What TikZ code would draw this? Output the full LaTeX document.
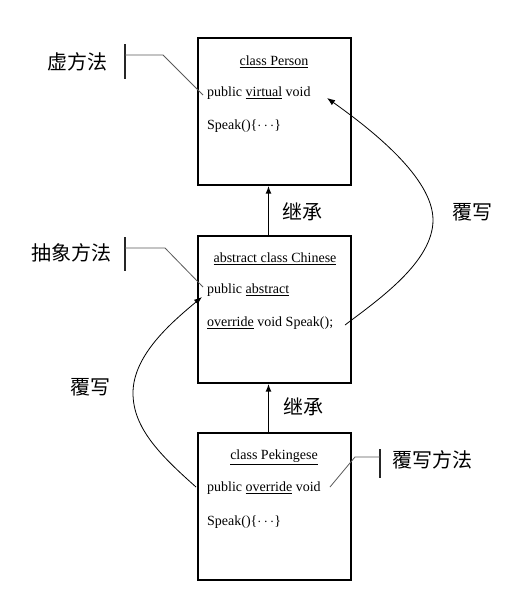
\documentclass[tikz,border=0pt]{standalone}
\usepackage{fontspec}
\setmainfont{Liberation Serif}
\newfontfamily\cjk{Noto Sans CJK SC}
\usetikzlibrary{arrows.meta}
\tikzset{
  classbox/.style={draw,line width=1.3pt,minimum width=153pt,minimum height=147pt,inner sep=0pt},
  code/.style={font=\fontsize{14}{16}\selectfont,inner sep=0pt},
  tag/.style={font=\cjk\fontsize{20}{22}\selectfont,inner sep=0pt},
  inherit/.style={line width=1.5pt,-{Latex[length=8pt,width=6pt]}},
  override/.style={line width=0.8pt,-{Latex[length=8pt,width=6pt]}},
  leader/.style={line width=0.8pt,gray!70!black},
  bar/.style={line width=1.6pt,gray!30!black}
}
\begin{document}
\begin{tikzpicture}[x=1pt,y=-1pt]
\useasboundingbox(0,0)rectangle(515,592);
\node[classbox](person)at(274.5,111.5){};
\node[classbox](chinese)at(274.5,309.5){};
\node[classbox](pekingese)at(274.5,506.5){};
% class Person
\node[code](personname)at(274,62){\underline{class Person}};
\node[code,anchor=west](personsig)at(207,93){public \underline{virtual} void};
\node[code,anchor=west](personbody)at(207,126){Speak()\{$\cdots$\}};
% abstract class Chinese
\node[code](chinesename)at(275,259){\underline{abstract class Chinese}};
\node[code,anchor=west](chinesesig)at(207,290){public \underline{abstract}};
\node[code,anchor=west](chinesebody)at(207,323){\underline{override} void Speak();};
% class Pekingese
\node[code](pekingesename)at(274,457){\underline{class Pekingese}};
\node[code,anchor=west](pekingesesig)at(207,488){public \underline{override} void};
\node[code,anchor=west](pekingesebody)at(207,522){Speak()\{$\cdots$\}};
% inheritance
\draw[inherit]([xshift=-6pt]chinese.north)--([xshift=-6pt]person.south);
\draw[inherit]([xshift=-6pt]pekingese.north)--([xshift=-6pt]chinese.south);
\node[tag](inheritA)at(302,212){继承};
\node[tag](inheritB)at(303,407){继承};
% overriding
\coordinate(speakdecl)at(345,325);
\coordinate(virtualtip)at(327,98);
\coordinate(rightbend)at(433,220);
\draw[override](speakdecl)..controls(378,300)and(433,262)..(rightbend)..controls(433,178)and(372,130)..(virtualtip);
\node[tag](overrideA)at(472,212){覆写};
\coordinate(pekingesedecl)at(196,487);
\coordinate(abstracttip)at(202,297);
\coordinate(leftbend)at(133,393);
\draw[override](pekingesedecl)..controls(160,455)and(133,428)..(leftbend)..controls(133,355)and(172,322)..(abstracttip);
\node[tag](overrideB)at(90,387){覆写};
% callouts
\node[tag,anchor=east](virtualtag)at(108,62){虚方法};
\draw[bar](125,44)--(125,79);
\coordinate(virtualknee)at(163,55);
\coordinate(virtualend)at(203,95);
\draw[leader](125,55)--(virtualknee)--(virtualend);
\node[tag,anchor=east](abstracttag)at(112,253){抽象方法};
\draw[bar](125,237)--(125,271);
\coordinate(abstractknee)at(165,248);
\coordinate(abstractend)at(203,287);
\draw[leader](125,248)--(abstractknee)--(abstractend);
\node[tag,anchor=west](overridetag)at(392,460){覆写方法};
\draw[bar](380,449)--(380,478);
\coordinate(overrideknee)at(355,457);
\coordinate(overrideend)at(330,487);
\draw[leader](380,457)--(overrideknee)--(overrideend);
\end{tikzpicture}
\end{document}
